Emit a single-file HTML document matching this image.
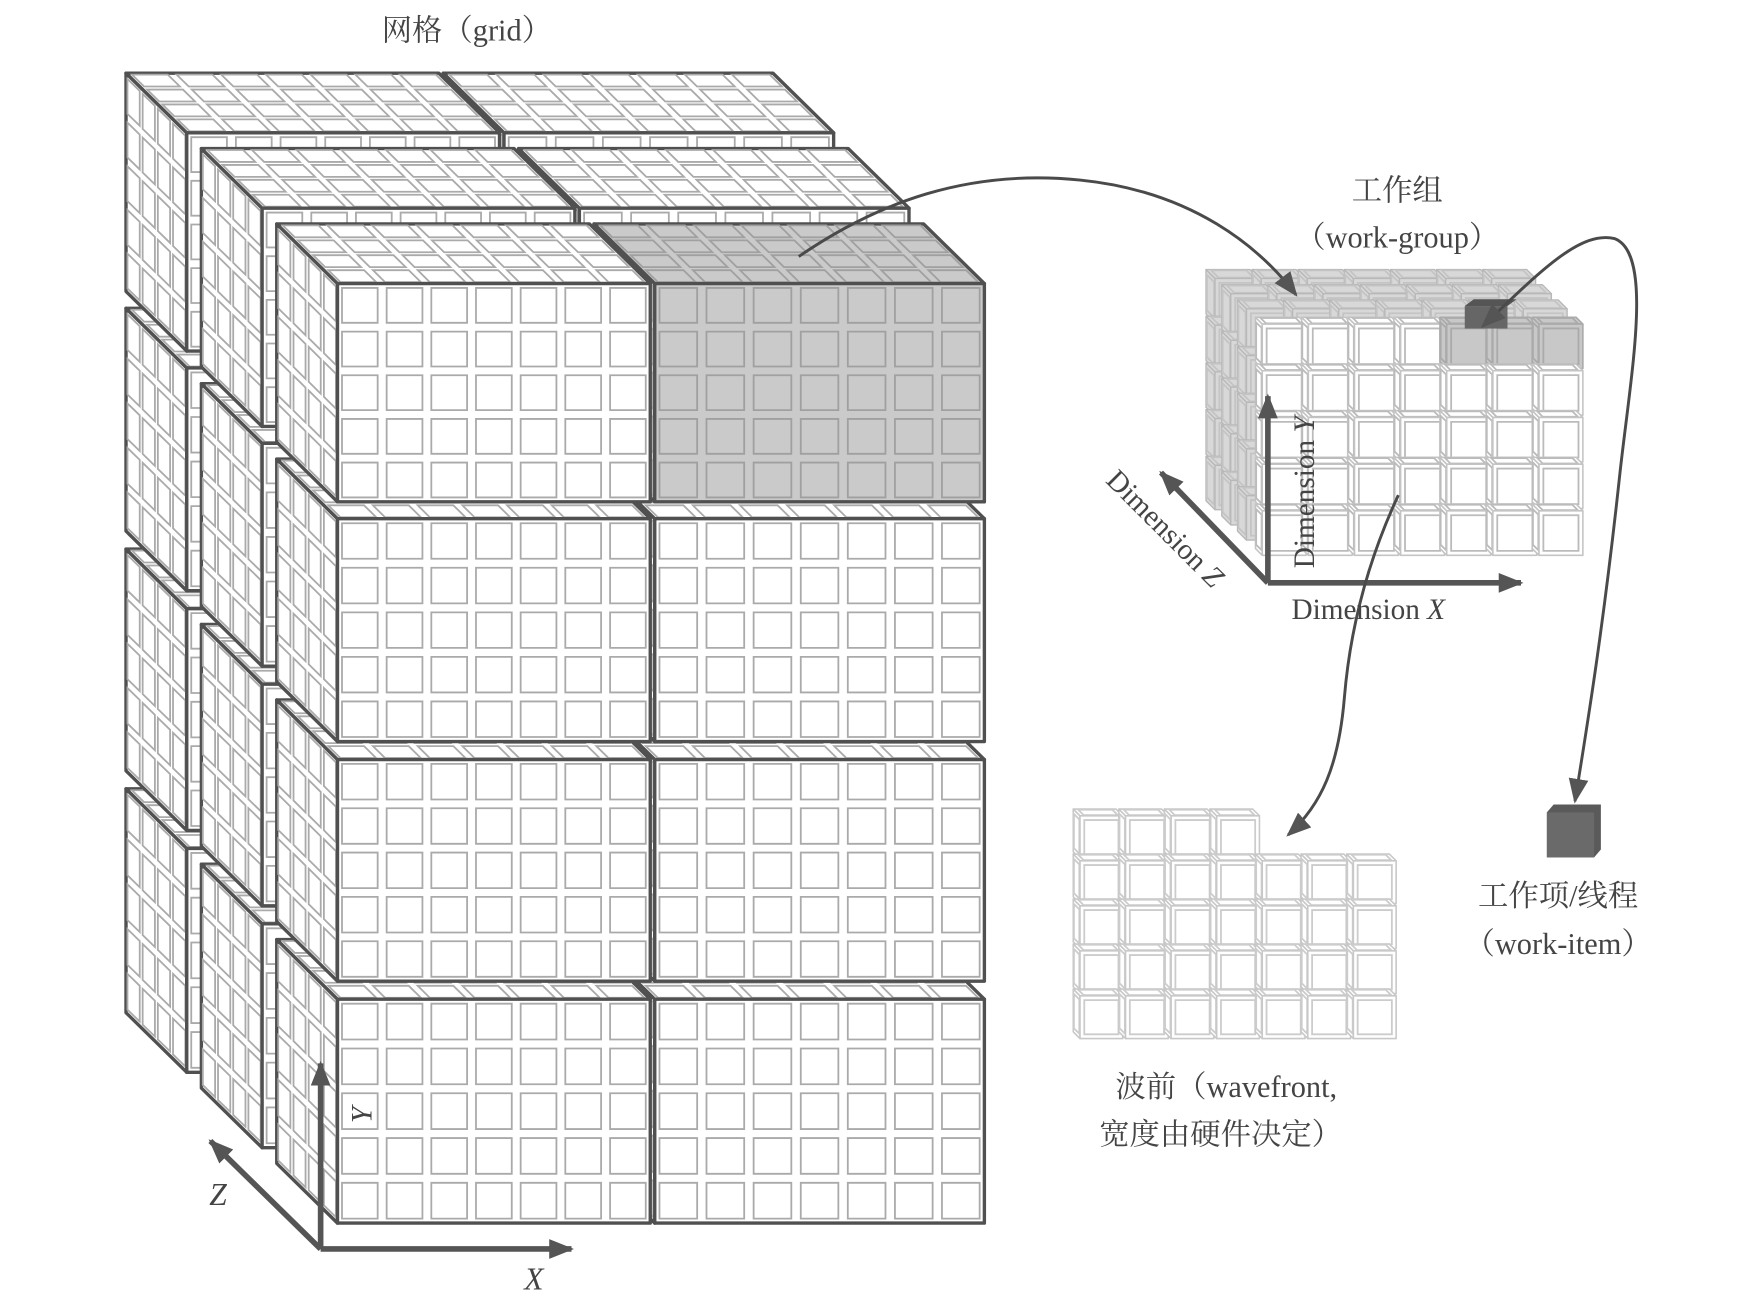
<!DOCTYPE html>
<html><head><meta charset="utf-8">
<style>
html,body{margin:0;padding:0;background:#fff;}
svg{display:block;}
text{font-family:"Liberation Serif","Noto Serif CJK SC",serif;fill:#444;}
</style></head>
<body>
<svg id="s" width="1764" height="1312" viewBox="0 0 1568 1166" preserveAspectRatio="none" xmlns="http://www.w3.org/2000/svg">
<defs>
<marker id="a" viewBox="0 0 10 10" refX="9" refY="5" markerWidth="22" markerHeight="22" markerUnits="userSpaceOnUse" orient="auto-start-reverse"><path d="M0,1 L10,5 L0,9 z" fill="#555"/></marker>
</defs>
<g id="g"></g>
<text x="415" y="36" font-size="27" text-anchor="middle">网格（grid）</text>
<text x="1242" y="178" font-size="27" text-anchor="middle">工作组</text>
<text x="1242" y="220" font-size="27" text-anchor="middle">（work-group）</text>
<text x="1385" y="805" font-size="27" text-anchor="middle">工作项/线程</text>
<text x="1385" y="848" font-size="27" text-anchor="middle">（work-item）</text>
<text x="1090" y="975" font-size="27" text-anchor="middle">波前（wavefront,</text>
<text x="1085" y="1017" font-size="27" text-anchor="middle">宽度由硬件决定）</text>
<text x="1148" y="550" font-size="26">Dimension <tspan font-style="italic">X</tspan></text>
<text transform="translate(1168,505) rotate(-90)" font-size="26">Dimension <tspan font-style="italic">Y</tspan></text>
<text transform="translate(982,428) rotate(45)" font-size="26">Dimension <tspan font-style="italic">Z</tspan></text>
<text x="466" y="1146" font-size="28" font-style="italic">X</text>
<text x="186" y="1071" font-size="28" font-style="italic">Z</text>
<text transform="translate(330,998) rotate(-90)" font-size="26" font-style="italic">Y</text>
</svg>
<script>
var g=document.getElementById('g'),h='';
function P(pts){return pts.map(function(p){return p[0].toFixed(1)+','+p[1].toFixed(1)}).join(' ');}
function face(o,u,v,nu,nv,fill,cell,stroke,sw){
 var s='<polygon points="'+P([o,[o[0]+u[0],o[1]+u[1]],[o[0]+u[0]+v[0],o[1]+u[1]+v[1]],[o[0]+v[0],o[1]+v[1]]])+'" fill="'+fill+'" stroke="'+stroke+'" stroke-width="'+sw+'" stroke-linejoin="round"/>';
 for(var i=0;i<nu;i++)for(var j=0;j<nv;j++){
  var m=0.1;
  var a=i/nu+m/nu,b=(i+1)/nu-m/nu,c=j/nv+m/nv,d=(j+1)/nv-m/nv;
  function pt(x,y){return [o[0]+u[0]*x+v[0]*y,o[1]+u[1]*x+v[1]*y];}
  s+='<polygon points="'+P([pt(a,c),pt(b,c),pt(b,d),pt(a,d)])+'" fill="none" stroke="'+cell+'" stroke-width="1.6"/>';
 }
 return s;
}
function block(x0,y0,x1,y1,dx,dy,nx,ny,nz,fill,cell,stroke,sw){
 var s='';
 s+=face([x0-dx,y0-dy],[dx,dy],[0,y1-y0],nz,ny,fill,cell,stroke,sw);
 s+=face([x0-dx,y0-dy],[x1-x0,0],[dx,dy],nx,nz,fill,cell,stroke,sw);
 s+=face([x0,y0],[x1-x0,0],[0,y1-y0],nx,ny,fill,cell,stroke,sw);
 return s;
}
var cols=[[300,578],[582,875]],rows=[[253,447],[462,660],[676,873],[889,1088]];
for(var k=2;k>=0;k--){
 var off=[67*k,67*k+1];
 for(var r=3;r>=0;r--)for(var c=1;c>=0;c--){
  var sh=(k==0&&r==0&&c==1);
  h+=block(cols[c][0]-off[0],rows[r][0]-off[1],cols[c][1]-off[0],rows[r][1]-off[1],54,53,7,5,4,sh?'#cacaca':'#fff',sh?'#a0a0a0':'#aaa','#505050',3);
 }
}
h+='<g stroke="#555" stroke-width="5" fill="none"><path d="M285,1110 L285,945" marker-end="url(#a)"/><path d="M285,1110 L508,1110" marker-end="url(#a)"/><path d="M285,1110 L187,1014" marker-end="url(#a)"/></g>';
var wx0=1122,wy0=288,cw=41,chh=41.5;
for(var z=3;z>=1;z--){
 var ox=-14*z,oy=-13.5*z;
 for(var j=0;j<5;j++)for(var i=0;i<7;i++){
  var x=wx0+i*cw+ox,y=wy0+j*chh+oy;
  h+=block(x,y,x+cw-2,y+chh-2,8,8,1,1,1,'#d8d8d8','#c4c4c4','#b8b8b8',1.2);
 }
}
for(var j=0;j<5;j++)for(var i=0;i<7;i++){
 var x=wx0+i*cw,y=wy0+j*chh,gray=(j==0&&i>=4);
 h+=block(x,y,x+cw-2,y+chh-2,6,6,1,1,1,gray?'#c8c8c8':'#fff',gray?'#aaa':'#bbb',gray?'#aaa':'#c4c4c4',1.4);
}
h+='<polygon points="1302,272 1340,272 1348,266 1310,266" fill="#555"/><rect x="1302" y="272" width="38" height="20" fill="#666"/>';
h+='<g stroke="#555" stroke-width="5" fill="none"><path d="M1127,518 L1127,352" marker-end="url(#a)"/><path d="M1127,518 L1352,518" marker-end="url(#a)"/><path d="M1127,518 L1032,420" marker-end="url(#a)"/></g>';
for(var j=0;j<5;j++)for(var i=0;i<7;i++){
 if(j==0&&i>=4)continue;
 var x=960+i*40.5,y=725+j*40;
 h+=block(x,y,x+38,y+38,6,6,1,1,1,'#fff','#ccc','#c8c8c8',1.4);
}
h+='<polygon points="1375,722 1381,715 1423,715 1423,755 1417,762 1375,762" fill="#5a5a5a"/><rect x="1375" y="722" width="42" height="40" fill="#6a6a6a"/>';
h+='<g stroke="#4a4a4a" stroke-width="2.6" fill="none">';
h+='<path d="M710,228 C780,180 860,150 960,160 C1060,170 1120,220 1152,262" marker-end="url(#a)"/>';
h+='<path d="M1318,290 C1370,240 1405,205 1435,212 C1470,225 1450,330 1440,420 C1425,560 1410,650 1400,712" marker-start="url(#a)" marker-end="url(#a)"/>';
h+='<path d="M1243,440 C1215,500 1200,560 1195,620 C1190,680 1175,715 1145,742" marker-end="url(#a)"/>';
h+='</g>';
g.innerHTML=h;
</script>
</body></html>
